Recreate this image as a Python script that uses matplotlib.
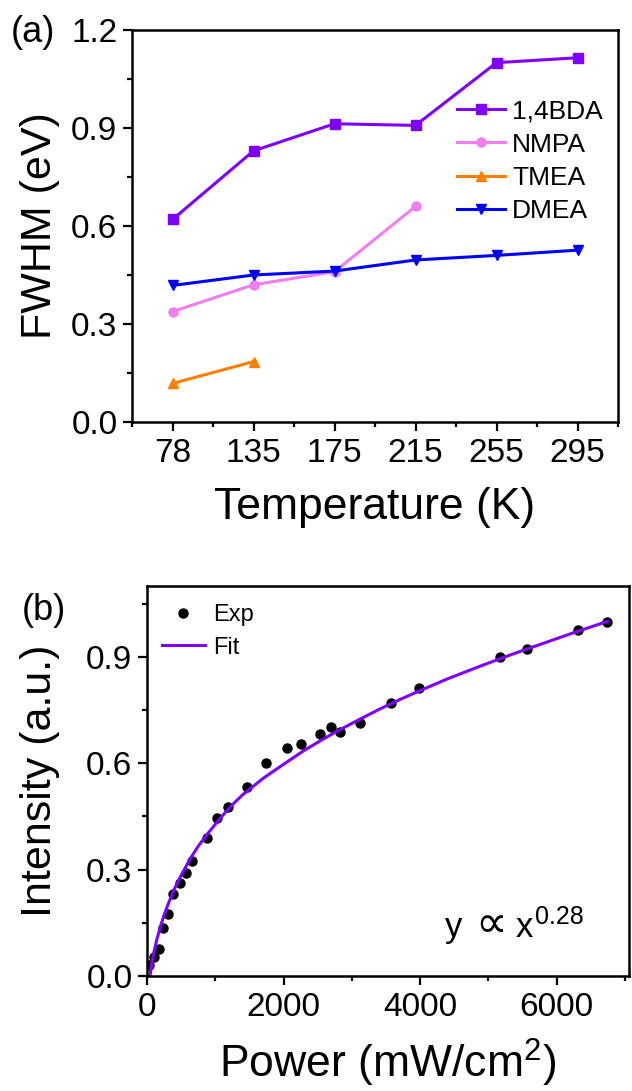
import numpy as np
import matplotlib
matplotlib.use("Agg")
import matplotlib.pyplot as plt
from matplotlib.ticker import MultipleLocator

plt.rcParams['font.family'] = ['Liberation Sans', 'DejaVu Sans']
plt.rcParams['mathtext.fontset'] = 'custom'
plt.rcParams['mathtext.rm'] = 'Liberation Sans'
plt.rcParams['mathtext.it'] = 'Liberation Sans'
plt.rcParams['mathtext.fallback'] = 'stixsans'

# (a) FWHM vs temperature
temps = ['78', '135', '175', '215', '255', '295']
bda = [0.62, 0.83, 0.913, 0.908, 1.10, 1.115]
nmpa = [0.338, 0.42, 0.46, 0.66]
tmea = [0.118, 0.185]
dmea = [0.418, 0.45, 0.462, 0.496, 0.51, 0.526]

# (b) intensity vs power
p_exp = [34, 103, 176, 239, 313, 386, 484, 571, 654, 874, 1030, 1191, 1460,
         1737, 2045, 2254, 2527, 2689, 2829, 3119, 3578, 3985, 5169, 5564,
         6314, 6744]
i_exp = [0.031, 0.055, 0.075, 0.136, 0.175, 0.231, 0.263, 0.290, 0.323,
         0.389, 0.445, 0.478, 0.534, 0.601, 0.643, 0.655, 0.682, 0.703,
         0.687, 0.713, 0.769, 0.813, 0.900, 0.921, 0.976, 0.999]
p_fit = [44, 70, 100, 140, 190, 250, 320, 400, 500, 630, 750, 874, 1000,
         1118, 1250, 1400, 1704, 2045, 2300, 2543, 2800, 3124, 3400, 3706,
         4000, 4400, 4800, 5158, 5500, 5800, 6319, 6744]
i_fit = [0.0, 0.035, 0.066, 0.10, 0.135, 0.172, 0.208, 0.245, 0.284, 0.33,
         0.366, 0.398, 0.428, 0.455, 0.483, 0.511, 0.558, 0.603, 0.636,
         0.664, 0.692, 0.725, 0.752, 0.780, 0.805, 0.838, 0.868, 0.894,
         0.918, 0.938, 0.973, 1.0]

W, H = 632, 1091
fig = plt.figure(figsize=(W/100, H/100), dpi=100)

def box(l, t, r, b):
    return [l/W, 1-b/H, (r-l)/W, (b-t)/H]

def style(ax):
    for s in ax.spines.values():
        s.set_linewidth(1.8)
    ax.tick_params(which='major', direction='out', length=6.5, width=1.6,
                   labelsize=24, pad=4)
    ax.tick_params(which='minor', direction='out', length=3.5, width=1.6)
    ax.tick_params(axis='x', which='major', pad=5)

# ---- panel a
ax1 = fig.add_axes(box(132, 30, 618, 422))
x = np.arange(len(temps))
ax1.plot(x, bda, '-s', color='#8000FF', lw=2.2, ms=6.5, label='1,4BDA')
ax1.plot(x[:len(nmpa)], nmpa, '-o', color='#F07EF0', lw=2.2, ms=6.5, label='NMPA')
ax1.plot(x[:len(tmea)], tmea, '-^', color='#FF7F00', lw=2.2, ms=7.5, label='TMEA')
ax1.plot(x, dmea, '-v', color='#0000FF', lw=2.2, ms=7.5, label='DMEA')
ax1.set_xlim(-0.5, 5.5)
ax1.set_ylim(0, 1.2)
ax1.set_xticks(x)
ax1.set_xticklabels(temps)
ax1.xaxis.set_minor_locator(MultipleLocator(0.5))
ax1.yaxis.set_major_locator(MultipleLocator(0.3))
ax1.yaxis.set_minor_locator(MultipleLocator(0.15))
ax1.yaxis.set_major_formatter(lambda v, pos: f'{v:.1f}')
style(ax1)
ax1.set_xlabel('Temperature (K)', fontsize=32)
ax1.set_ylabel('FWHM (eV)', fontsize=31)
ax1.xaxis.set_label_coords(0.5, (422-487)/392)
ax1.yaxis.set_label_coords((60-132)/486, 0.5)
ax1.legend(loc='upper left', bbox_to_anchor=((457-132)/486, (422-99)/392),
           frameon=False, fontsize=19, borderpad=0, borderaxespad=0,
           handlelength=1.8, handletextpad=0.28, labelspacing=0.36, numpoints=1)
fig.text(11/W, 1-32/H, '(a)', fontsize=26, ha='left', va='center')

# ---- panel b
ax2 = fig.add_axes(box(147, 586, 629, 976))
ax2.plot(p_exp, i_exp, 'o', color='black', ms=6.5, label='Exp')
ax2.plot(p_fit, i_fit, '-', color='#8000FF', lw=2.2, label='Fit')
ax2.set_xlim(0, 7060)
ax2.set_ylim(0, 1.1)
ax2.xaxis.set_major_locator(MultipleLocator(2000))
ax2.xaxis.set_minor_locator(MultipleLocator(1000))
ax2.yaxis.set_major_locator(MultipleLocator(0.3))
ax2.yaxis.set_minor_locator(MultipleLocator(0.15))
ax2.yaxis.set_major_formatter(lambda v, pos: f'{v:.1f}')
style(ax2)
ax2.set_xlabel('Power (mW/cm$^2$)', fontsize=32)
ax2.set_ylabel('Intensity (a.u.)', fontsize=31)
ax2.xaxis.set_label_coords(0.5, (976-1037)/390)
ax2.yaxis.set_label_coords((60-147)/482, 0.5)
ax2.legend(loc='upper left', bbox_to_anchor=((162-147)/482, (976-604)/390),
           frameon=False, fontsize=17, borderpad=0, borderaxespad=0,
           handlelength=1.8, handletextpad=0.35, labelspacing=0.45, numpoints=1)
# "y ∝ x^0.28" annotation, placed in pieces to match the wide spacing
base = (976-937)/390
ax2.text((445-147)/482, base, 'y', fontsize=25,
         transform=ax2.transAxes, ha='left', va='baseline')
ax2.text((475-147)/482, base, '\u221d', fontsize=32,
         transform=ax2.transAxes, ha='left', va='baseline')
ax2.text((516-147)/482, base, 'x', fontsize=25,
         transform=ax2.transAxes, ha='left', va='baseline')
ax2.text((535-147)/482, (976-924)/390, '0.28', fontsize=18,
         transform=ax2.transAxes, ha='left', va='baseline')
fig.text(22/W, 1-611/H, '(b)', fontsize=26, ha='left', va='center')

fig.savefig('out.png', dpi=100)
